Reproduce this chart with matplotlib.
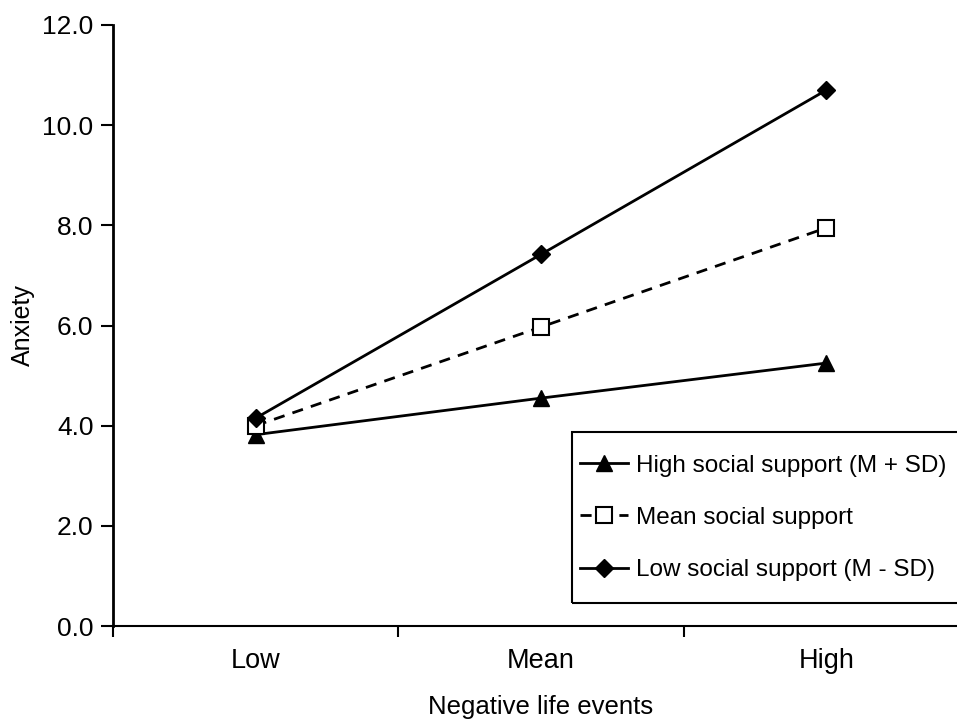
import matplotlib
matplotlib.use("Agg")
import matplotlib.pyplot as plt
from matplotlib.patches import Rectangle

plt.rcParams['font.family'] = ['Liberation Sans', 'DejaVu Sans']

categories = ["Low", "Mean", "High"]
high_support = [3.82, 4.55, 5.25]
mean_support = [4.0, 5.97, 7.95]
low_support = [4.15, 7.42, 10.70]
yticks = [0, 2, 4, 6, 8, 10, 12]

W, H = 957, 721
fig = plt.figure(figsize=(W / 100, H / 100), dpi=100)
ax = fig.add_axes([113 / W, (H - 626) / H, (969 - 113) / W, (626 - 25) / H])

x = [i + 0.5 for i in range(len(categories))]
lw = 2.0
ax.plot(x, high_support, color='black', lw=lw, marker='^', ms=11,
        mfc='black', mec='black', label='High social support (M + SD)', clip_on=False)
ax.plot(x, mean_support, color='black', lw=lw, ls=(0, (4, 3)), marker='s', ms=11,
        mfc='white', mec='black', mew=1.5, label='Mean social support', clip_on=False)
ax.plot(x, low_support, color='black', lw=lw, marker='D', ms=9,
        mfc='black', mec='black', label='Low social support (M - SD)', clip_on=False)

ax.set_xlim(0, 3)
ax.set_ylim(0, 12)
ax.set_xticks([0, 1, 2, 3])
ax.set_xticklabels([])
ax.set_xticks(x, minor=True)
ax.set_xticklabels(categories, minor=True)
ax.tick_params(axis='x', which='minor', length=0, pad=16, labelsize=19.5)
ax.tick_params(axis='x', which='major', length=8, width=1.5, direction='out')
ax.set_yticks(yticks)
ax.set_yticklabels([f"{v:.1f}" for v in yticks])
ax.tick_params(axis='y', length=9, width=1.5, direction='out', labelsize=19, pad=5)

for s in ['top', 'right']:
    ax.spines[s].set_visible(False)
ax.spines['left'].set_linewidth(2.0)
ax.spines['bottom'].set_linewidth(1.5)

ax.set_xlabel("Negative life events", fontsize=18.5, labelpad=15)
ax.set_ylabel("Anxiety", fontsize=18, labelpad=5)

# legend frame
fig.patches.append(Rectangle((572 / W, (H - 603) / H), (1000 - 572) / W, (603 - 432) / H,
                             transform=fig.transFigure, fill=False, edgecolor='black',
                             linewidth=1.5, zorder=5))
leg = ax.legend(loc='center left', bbox_to_anchor=(580 / W, (H - 518) / H),
                bbox_transform=fig.transFigure, fontsize=17.5, frameon=False,
                handlelength=1.98, handletextpad=0.33, labelspacing=1.25,
                borderpad=0, borderaxespad=0)

fig.savefig("out.png", dpi=100)
